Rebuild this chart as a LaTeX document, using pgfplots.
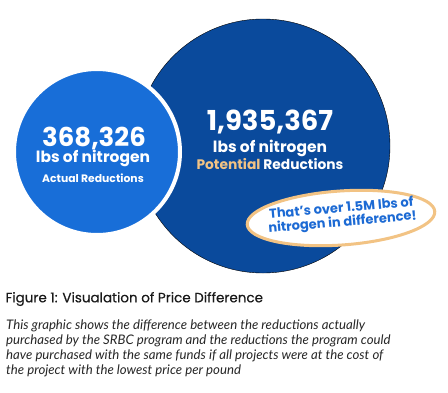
\documentclass[border=0pt]{standalone}
\usepackage{pgfplots}
\pgfplotsset{compat=1.18}
\usepackage{fontspec}
\setmainfont{Poppins}
\newfontfamily\lato{Lato}
\usetikzlibrary{shapes.geometric}
\definecolor{lightblue}{HTML}{186ED8}
\definecolor{darkblue}{HTML}{0A4A9C}
\definecolor{peach}{HTML}{F2C384}
\definecolor{txtblue}{HTML}{1C6AD4}
\begin{document}
\begin{tikzpicture}
\begin{axis}[
  width=448pt, height=392pt, scale only axis,
  xmin=0, xmax=448, ymin=0, ymax=392, y dir=reverse,
  axis line style={draw=none}, xtick=\empty, ytick=\empty,
  clip=false,
]
% circles: sized by radius (px)
\addplot[only marks, mark=*, mark size=127pt, mark options={fill=darkblue, draw=none}] coordinates {(263,146)};
\addplot[only marks, mark=*, mark size=83pt, mark options={fill=lightblue, draw=white, line width=4pt}] coordinates {(97,152)};
\coordinate (a1) at (axis cs:94,138);
\coordinate (a2) at (axis cs:93,158);
\coordinate (a3) at (axis cs:93,178);
\coordinate (b1) at (axis cs:270,122);
\coordinate (b2) at (axis cs:270,148);
\coordinate (b3) at (axis cs:270,164);
\coordinate (e) at (axis cs:341,218);
\coordinate (et) at (axis cs:342,216);
\coordinate (t) at (axis cs:2,299);
\coordinate (c) at (axis cs:6,320);
\end{axis}
% circle texts
\node[white, inner sep=0pt, font=\bfseries\fontsize{26}{26}\selectfont] at (a1) {368,326};
\node[white, inner sep=0pt, font=\bfseries\fontsize{15.5}{16}\selectfont] at (a2) {lbs of nitrogen};
\node[white, inner sep=0pt, font=\bfseries\fontsize{10.8}{11}\selectfont] at (a3) {Actual Reductions};
\node[white, inner sep=0pt, font=\bfseries\fontsize{27.5}{28}\selectfont] at (b1) {1,935,367};
\node[white, inner sep=0pt, font=\bfseries\fontsize{15.5}{16}\selectfont] at (b2) {lbs of nitrogen};
\node[white, inner sep=0pt, font=\bfseries\fontsize{13.8}{14}\selectfont] at (b3) {\textcolor{peach}{Potential} Reductions};
% callout
\node[ellipse, draw=peach, line width=3pt, fill=white, minimum width=188pt, minimum height=54pt, rotate=4] at (e) {};
\node[txtblue, rotate=5, align=center, inner sep=0pt, font=\bfseries\fontsize{13}{14}\selectfont] at (et) {That’s over 1.5M lbs of\\nitrogen in difference!};
% caption
\node[anchor=west, text=black!90, font=\addfontfeature{FakeBold=0.4}\fontsize{13.5}{14}\selectfont] at (t) {Figure 1: Visualation of Price Difference};
\node[anchor=north west, text=black!85, align=left, inner sep=0pt, font=\lato\itshape\fontsize{13.2}{15}\selectfont] at (c) {This graphic shows the difference between the reductions actually\\purchased by the SRBC program and the reductions the program could\\have purchased with the same funds if all projects were at the cost of\\the project with the lowest price per pound};
\end{tikzpicture}
\end{document}
